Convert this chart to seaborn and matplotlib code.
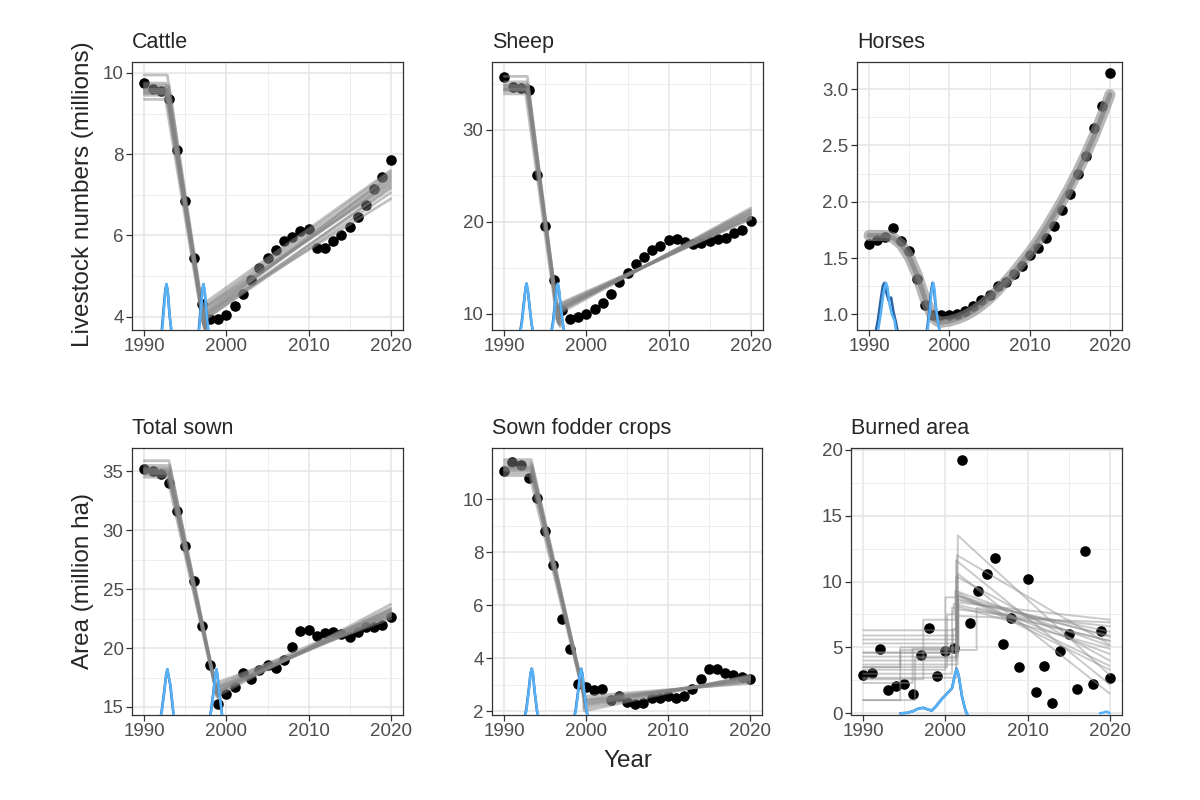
import pandas as pd
import matplotlib
matplotlib.use("Agg")
import matplotlib.pyplot as plt
import seaborn as sns
from matplotlib.ticker import MultipleLocator, FormatStrFormatter

# observed series, 1990-2020
years = list(range(1990, 2021))
cattle = [9.75, 9.6, 9.55, 9.35, 8.1, 6.85, 5.45, 4.3, 3.95, 3.95, 4.05, 4.25, 4.55, 4.9, 5.2, 5.45,
          5.65, 5.85, 5.95, 6.1, 6.15, 5.7, 5.7, 5.85, 6.0, 6.2, 6.45, 6.75, 7.15, 7.45, 7.85]
sheep = [35.7, 34.6, 34.5, 34.3, 25.1, 19.6, 13.7, 10.4, 9.5, 9.7, 10.0, 10.5, 11.2, 12.2, 13.5, 14.5,
         15.4, 16.2, 16.9, 17.4, 18.0, 18.15, 17.8, 17.6, 17.7, 17.95, 18.15, 18.3, 18.8, 19.1, 20.1]
horses = [1.62, 1.66, 1.69, 1.77, 1.65, 1.56, 1.31, 1.08, 0.99, 0.99, 0.99, 1.0, 1.03, 1.07, 1.13, 1.17,
          1.25, 1.29, 1.36, 1.43, 1.53, 1.59, 1.68, 1.78, 1.93, 2.07, 2.25, 2.41, 2.65, 2.85, 3.14]
total_sown = [35.2, 35.0, 34.8, 34.0, 31.6, 28.7, 25.7, 21.9, 18.6, 15.25, 16.1, 16.7, 17.85, 17.4, 18.1, 18.55,
              18.3, 19.0, 20.1, 21.45, 21.5, 21.0, 21.25, 21.4, 21.2, 20.9, 21.4, 21.8, 21.8, 22.0, 22.65]
fodder = [11.06, 11.41, 11.3, 10.82, 10.05, 8.8, 7.53, 5.46, 4.33, 3.04, 2.89, 2.79, 2.85, 2.4, 2.55, 2.35,
          2.25, 2.31, 2.48, 2.5, 2.56, 2.5, 2.56, 2.85, 3.2, 3.57, 3.57, 3.45, 3.38, 3.3, 3.2]
burned = [2.9, 3.08, 4.85, 1.77, 2.07, 2.22, 1.44, 4.42, 6.49, 2.85, 4.75, 4.92, 19.24, 6.82, 9.29, 10.6,
          11.82, 5.23, 7.25, 3.54, 10.18, 1.64, 3.59, 0.76, 4.75, 5.98, 1.84, 12.32, 2.2, 6.24, 2.7]

# posterior draws of the piecewise fits: cp1, plateau, cp2, value at cp2, restart, value in 2020
cattle_fits = [(1992.8, 9.60, 1997.3, 3.75, 4.10, 7.30), (1992.6, 9.55, 1997.2, 3.80, 4.20, 7.45),
               (1992.9, 9.65, 1997.4, 3.70, 4.00, 7.15), (1992.7, 9.50, 1997.3, 3.78, 4.25, 7.55),
               (1993.0, 9.70, 1997.5, 3.65, 3.95, 7.05), (1992.5, 9.45, 1997.1, 3.85, 4.30, 7.60),
               (1992.8, 9.95, 1997.3, 3.70, 4.05, 6.90), (1992.9, 9.35, 1997.4, 3.72, 4.15, 7.40),
               (1992.7, 9.60, 1997.2, 3.80, 3.90, 7.20), (1992.8, 9.55, 1997.6, 3.60, 4.10, 7.35),
               (1992.6, 9.75, 1997.3, 3.75, 4.20, 7.25), (1992.9, 9.50, 1997.4, 3.70, 4.00, 7.50)]
sheep_fits = [(1992.8, 34.5, 1996.6, 9.0, 10.5, 20.8), (1992.7, 34.3, 1996.5, 9.3, 10.2, 21.2),
              (1992.9, 34.8, 1996.7, 8.8, 10.8, 20.5), (1992.8, 35.8, 1996.6, 9.2, 10.0, 21.5),
              (1992.6, 33.9, 1996.4, 9.4, 11.0, 20.3), (1992.8, 34.6, 1996.8, 8.6, 10.6, 20.9),
              (1992.9, 34.2, 1996.5, 9.5, 10.4, 21.0), (1992.7, 35.2, 1996.6, 9.0, 10.7, 20.6),
              (1992.8, 34.4, 1996.7, 8.9, 10.3, 21.3), (1992.9, 34.9, 1996.5, 9.1, 10.9, 20.4)]
total_fits = [(1993.0, 35.0, 1998.8, 16.2, 16.4, 23.0), (1992.9, 34.8, 1998.7, 16.5, 16.1, 23.3),
              (1993.1, 35.3, 1998.9, 15.9, 16.7, 22.7), (1993.0, 35.9, 1998.8, 16.4, 15.9, 23.7),
              (1992.8, 34.5, 1998.6, 16.7, 17.0, 22.5), (1993.0, 35.1, 1999.0, 15.7, 16.3, 23.1),
              (1992.9, 34.9, 1998.8, 16.3, 16.6, 22.9), (1993.1, 35.5, 1998.7, 16.6, 16.2, 23.4),
              (1993.0, 34.7, 1998.9, 16.0, 16.5, 22.8), (1992.9, 35.2, 1998.8, 16.2, 16.8, 23.2)]
fodder_fits = [(1993.3, 11.2, 1999.8, 2.5, 2.3, 3.2), (1993.2, 11.1, 1999.7, 2.6, 2.1, 3.3),
               (1993.4, 11.3, 1999.9, 2.4, 2.45, 3.1), (1993.3, 11.5, 1999.8, 2.6, 2.0, 3.35),
               (1993.1, 10.9, 1999.6, 2.7, 2.55, 3.05), (1993.3, 11.0, 2000.0, 2.3, 2.25, 3.25),
               (1993.4, 11.2, 1999.7, 2.6, 2.4, 3.15), (1993.2, 11.4, 1999.9, 2.5, 2.2, 3.3),
               (1993.3, 11.1, 1999.8, 2.5, 2.35, 3.2)]
# burned area: cp1, level 1, cp2, level 2, restart, value in 2020
burned_fits = [(2001.3, 3.7, 2001.5, 3.7, 8.9, 4.5), (2001.0, 4.0, 2001.3, 4.0, 9.2, 3.6),
               (2001.4, 5.3, 2001.5, 5.3, 13.5, 2.9), (2000.0, 3.3, 2001.3, 8.8, 10.4, 4.0),
               (2001.5, 4.6, 2001.6, 4.6, 8.4, 7.1), (2000.8, 3.0, 2001.2, 8.0, 9.3, 5.1),
               (1997.3, 2.6, 2001.2, 7.1, 7.9, 6.6), (1994.5, 1.0, 2001.4, 5.0, 8.7, 5.9),
               (1996.3, 1.0, 2001.3, 4.2, 11.6, 2.2), (1996.0, 2.3, 2001.5, 4.9, 10.6, 1.5),
               (2000.5, 5.9, 2001.4, 5.9, 8.6, 6.2), (2001.2, 6.3, 2001.4, 6.3, 8.1, 4.9),
               (2000.2, 3.5, 2001.0, 7.5, 8.3, 5.5), (2001.3, 4.3, 2001.5, 4.3, 9.0, 3.3),
               (2001.1, 2.7, 2001.3, 2.7, 7.4, 6.9), (1994.5, 3.5, 2003.8, 4.8, 8.0, 5.5),
               (2001.4, 5.6, 2001.5, 5.6, 8.9, 5.8), (2000.9, 4.6, 2001.4, 6.4, 12.0, 5.2)]
# horses: fitted curve (posterior centre)
horse_fit_x = [1990, 1991, 1992, 1992.5, 1993, 1994, 1995, 1996, 1997, 1998, 1998.5, 1999, 2000, 2001, 2002,
               2003, 2004, 2005, 2006, 2007, 2008, 2009, 2010, 2011, 2012, 2013, 2014, 2015, 2016, 2017,
               2018, 2019, 2020]
horse_fit_y = [1.70, 1.70, 1.70, 1.69, 1.68, 1.62, 1.51, 1.35, 1.13, 0.97, 0.94, 0.93, 0.94, 0.96, 0.99,
               1.03, 1.08, 1.14, 1.21, 1.29, 1.37, 1.46, 1.55, 1.65, 1.76, 1.88, 2.00, 2.13, 2.27, 2.42,
               2.58, 2.76, 2.95]

# change point posterior densities (chain, x, y), drawn in the data scale
cattle_cp = [
    (1, [1991.8, 1992.1, 1992.35, 1992.55, 1992.7, 1992.85, 1993.05, 1993.3, 1993.6], [3.3, 3.6, 4.2, 4.65, 4.8, 4.6, 4.1, 3.6, 3.3]),
    (2, [1991.85, 1992.15, 1992.4, 1992.6, 1992.72, 1992.9, 1993.1, 1993.35, 1993.6], [3.3, 3.6, 4.2, 4.7, 4.8, 4.55, 4.0, 3.6, 3.3]),
    (1, [1996.3, 1996.6, 1996.85, 1997.05, 1997.2, 1997.35, 1997.55, 1997.8, 1998.1], [3.3, 3.6, 4.2, 4.65, 4.8, 4.6, 4.1, 3.6, 3.3]),
    (2, [1996.35, 1996.65, 1996.9, 1997.1, 1997.22, 1997.4, 1997.6, 1997.85, 1998.1], [3.3, 3.6, 4.2, 4.7, 4.8, 4.55, 4.0, 3.6, 3.3]),
]
sheep_cp = [
    (1, [1991.8, 1992.1, 1992.35, 1992.58, 1992.7, 1992.85, 1993.08, 1993.3, 1993.6], [7.5, 9.0, 11.0, 12.8, 13.3, 12.6, 10.8, 9.0, 7.5]),
    (2, [1991.85, 1992.15, 1992.4, 1992.6, 1992.72, 1992.88, 1993.1, 1993.32, 1993.6], [7.5, 9.0, 11.1, 12.9, 13.3, 12.5, 10.6, 9.0, 7.5]),
    (1, [1995.6, 1995.9, 1996.15, 1996.38, 1996.5, 1996.65, 1996.88, 1997.1, 1997.4], [7.5, 9.0, 11.0, 12.8, 13.3, 12.6, 10.8, 9.0, 7.5]),
    (2, [1995.65, 1995.95, 1996.2, 1996.4, 1996.52, 1996.68, 1996.9, 1997.12, 1997.4], [7.5, 9.0, 11.1, 12.9, 13.3, 12.5, 10.6, 9.0, 7.5]),
]
horse_cp = [
    (1, [1990.7, 1991.1, 1991.45, 1991.7, 1991.9, 1992.2, 1992.45, 1992.75, 1993.05, 1993.35, 1993.7], [0.8, 0.95, 1.13, 1.25, 1.28, 1.18, 1.12, 1.15, 1.02, 0.93, 0.8]),
    (2, [1991.0, 1991.45, 1991.8, 1992.1, 1992.3, 1992.55, 1992.85, 1993.15, 1993.5], [0.8, 1.0, 1.19, 1.28, 1.24, 1.09, 1.0, 0.95, 0.8]),
    (1, [1997.1, 1997.45, 1997.7, 1997.9, 1998.05, 1998.25, 1998.55, 1998.9], [0.8, 1.0, 1.2, 1.28, 1.25, 1.1, 0.95, 0.8]),
    (2, [1997.2, 1997.55, 1997.8, 1998.0, 1998.15, 1998.35, 1998.6, 1998.95], [0.8, 1.02, 1.22, 1.28, 1.22, 1.05, 0.92, 0.8]),
]
total_cp = [
    (1, [1991.8, 1992.1, 1992.4, 1992.65, 1992.8, 1992.95, 1993.15, 1993.4, 1993.7], [13.5, 14.6, 16.2, 17.7, 18.2, 17.6, 16.9, 15.3, 13.5]),
    (2, [1991.85, 1992.15, 1992.45, 1992.68, 1992.82, 1993.0, 1993.2, 1993.45, 1993.7], [13.5, 14.7, 16.3, 17.8, 18.2, 17.5, 16.8, 15.2, 13.5]),
    (1, [1997.8, 1998.1, 1998.4, 1998.62, 1998.78, 1998.92, 1999.1, 1999.35, 1999.6], [13.5, 14.6, 16.2, 17.7, 18.2, 17.6, 16.4, 15.0, 13.5]),
    (2, [1997.85, 1998.15, 1998.45, 1998.65, 1998.8, 1998.95, 1999.12, 1999.38, 1999.6], [13.5, 14.7, 16.3, 17.8, 18.2, 17.5, 16.3, 14.9, 13.5]),
]
fodder_cp = [
    (1, [1992.35, 1992.65, 1992.95, 1993.2, 1993.35, 1993.5, 1993.72, 1994.0, 1994.3], [1.6, 2.0, 2.7, 3.4, 3.6, 3.4, 2.7, 2.0, 1.6]),
    (2, [1992.4, 1992.7, 1993.0, 1993.22, 1993.37, 1993.52, 1993.75, 1994.02, 1994.3], [1.6, 2.0, 2.75, 3.45, 3.6, 3.35, 2.65, 2.0, 1.6]),
    (1, [1998.4, 1998.7, 1999.0, 1999.25, 1999.4, 1999.55, 1999.78, 2000.05, 2000.35], [1.6, 2.0, 2.7, 3.4, 3.6, 3.4, 2.7, 2.0, 1.6]),
    (2, [1998.45, 1998.75, 1999.05, 1999.27, 1999.42, 1999.57, 1999.8, 2000.08, 2000.35], [1.6, 2.0, 2.75, 3.45, 3.6, 3.35, 2.65, 2.0, 1.6]),
]
burned_cp = [
    (1, [1994.5, 1995.3, 1996.0, 1996.7, 1997.3, 1997.8, 1998.3, 1998.8, 1999.5, 2000.2, 2000.8, 2001.1, 2001.35, 2001.6, 2002.0, 2002.4, 2002.7],
        [0.0, 0.03, 0.15, 0.35, 0.42, 0.3, 0.2, 0.5, 1.05, 1.5, 1.9, 2.8, 3.4, 2.9, 1.3, 0.3, -0.2]),
    (2, [1994.6, 1995.4, 1996.1, 1996.8, 1997.4, 1997.9, 1998.4, 1998.9, 1999.6, 2000.3, 2000.85, 2001.15, 2001.38, 2001.65, 2002.05, 2002.45, 2002.75],
        [0.0, 0.04, 0.17, 0.37, 0.4, 0.28, 0.22, 0.55, 1.1, 1.55, 1.95, 2.9, 3.35, 2.8, 1.2, 0.25, -0.2]),
    (2, [2018.8, 2019.2, 2019.6, 2019.9, 2020.0], [0.0, 0.05, 0.13, 0.05, 0.0]),
]

chain_colors = {1: "#2B63A3", 2: "#56B1F7"}


def linear_frame(fits):
    rows = []
    for i, (cp1, level, cp2, low, restart, end) in enumerate(fits):
        xs = [1990, cp1, cp2, cp2, 2020]
        ys = [level, level, low, restart, end]
        rows += [(i, x, y) for x, y in zip(xs, ys)]
    return pd.DataFrame(rows, columns=["draw", "x", "y"])


def step_frame(fits):
    rows = []
    for i, (cp1, a, cp2, b, c, d) in enumerate(fits):
        xs = [1990, cp1, cp1, cp2, cp2, 2020]
        ys = [a, a, b, b, c, d]
        rows += [(i, x, y) for x, y in zip(xs, ys)]
    return pd.DataFrame(rows, columns=["draw", "x", "y"])


sns.set_style("white")
plt.rcParams["font.family"] = ["Liberation Sans", "DejaVu Sans"]

fig = plt.figure(figsize=(12, 8), dpi=100)

W, H = 1200, 800
panels = [
    ("Cattle", cattle, linear_frame(cattle_fits), cattle_cp, (3.67, 10.27), 2, (132, 62, 403, 330)),
    ("Sheep", sheep, linear_frame(sheep_fits), sheep_cp, (8.26, 37.36), 10, (492, 62, 763, 330)),
    ("Horses", horses, None, horse_cp, (0.861, 3.24), 0.5, (857, 62, 1122, 330)),
    ("Total sown", total_sown, linear_frame(total_fits), total_cp, (14.32, 36.98), 5, (132, 448, 403, 715)),
    ("Sown fodder crops", fodder, linear_frame(fodder_fits), fodder_cp, (1.85, 11.94), 2, (492, 448, 762, 715)),
    ("Burned area", burned, step_frame(burned_fits), burned_cp, (-0.13, 20.13), 5, (851, 448, 1122, 715)),
]

for title, values, fit_df, cps, ylim, step, (x0, y0, x1, y1) in panels:
    ax = fig.add_axes([x0 / W, 1 - y1 / H, (x1 - x0) / W, (y1 - y0) / H])
    ax.set_axisbelow(True)

    sns.scatterplot(x=years, y=values, color="black", s=58, linewidth=0, ax=ax, zorder=3)

    if fit_df is None:
        sns.lineplot(x=horse_fit_x, y=horse_fit_y, estimator=None, sort=False,
                     color="#8a8a8a", alpha=0.6, linewidth=8, ax=ax, zorder=4)
        sns.lineplot(x=horse_fit_x, y=horse_fit_y, estimator=None, sort=False,
                     color="#7a7a7a", alpha=0.6, linewidth=3.5, ax=ax, zorder=4)
    elif title == "Burned area":
        sns.lineplot(data=fit_df, x="x", y="y", units="draw", estimator=None, sort=False,
                     color="#8a8a8a", alpha=0.45, linewidth=1.4, ax=ax, zorder=4)
    else:
        sns.lineplot(data=fit_df, x="x", y="y", units="draw", estimator=None, sort=False,
                     color="#848484", alpha=0.5, linewidth=2.0, ax=ax, zorder=4)

    for chain, xs, ys in sorted(cps, key=lambda c: c[0]):
        sns.lineplot(x=xs, y=ys, estimator=None, sort=False, color=chain_colors[chain],
                     linewidth=1.8, ax=ax, zorder=5)

    ax.set_xlim(1988.5, 2021.5)
    ax.set_ylim(*ylim)
    ax.xaxis.set_major_locator(MultipleLocator(10))
    ax.xaxis.set_minor_locator(MultipleLocator(5))
    ax.yaxis.set_major_locator(MultipleLocator(step))
    ax.yaxis.set_minor_locator(MultipleLocator(step / 2))
    if step == 0.5:
        ax.yaxis.set_major_formatter(FormatStrFormatter("%.1f"))
    ax.grid(which="major", color="#E6E6E6", linewidth=1.2)
    ax.grid(which="minor", color="#EBEBEB", linewidth=0.6)
    ax.tick_params(which="major", length=4, width=0.9, color="#333333", labelcolor="#4D4D4D",
                   labelsize=13.5, pad=2, left=True, bottom=True)
    ax.tick_params(which="minor", length=0)
    for spine in ax.spines.values():
        spine.set_color("#333333")
        spine.set_linewidth(0.9)
    ax.set_xlabel("")
    ax.set_ylabel("")
    ax.set_title(title, loc="left", fontsize=15.5, pad=10)

fig.text(83 / W, 1 - 194 / H, "Livestock numbers (millions)", rotation=90, ha="center", va="center", fontsize=17.5)
fig.text(83 / W, 1 - 581 / H, "Area (million ha)", rotation=90, ha="center", va="center", fontsize=17.5)
fig.text(628 / W, 1 - 761 / H, "Year", ha="center", va="center", fontsize=17.5)

fig.savefig("out.png", dpi=100)
